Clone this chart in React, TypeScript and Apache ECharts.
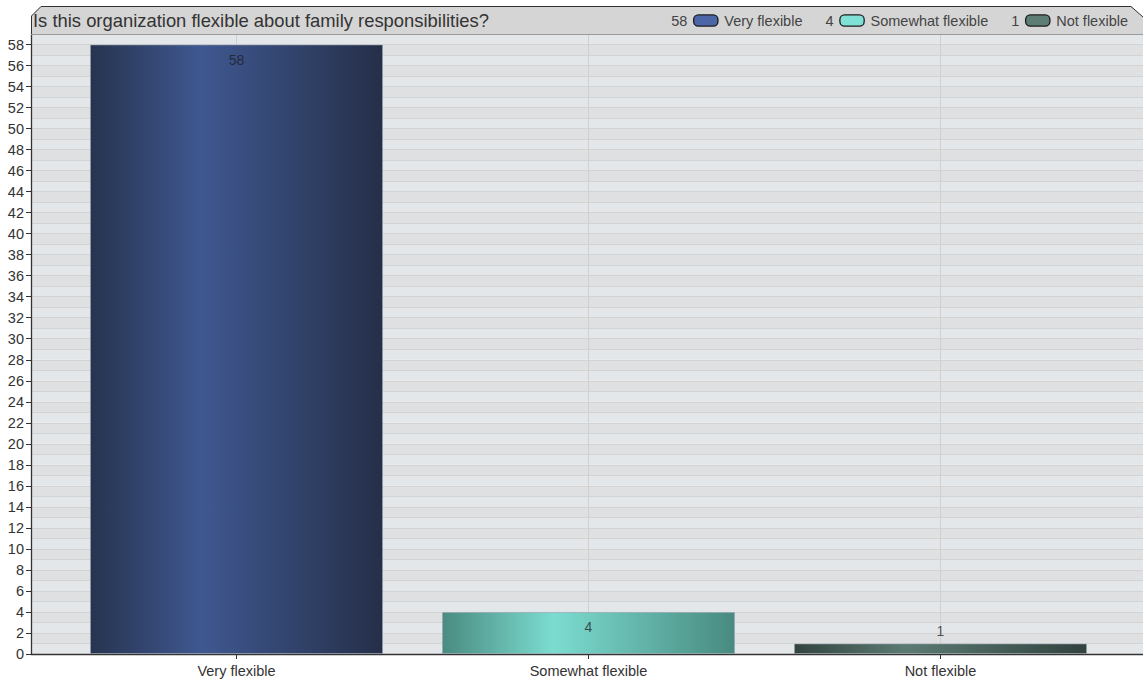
import React, { useEffect, useRef } from "react";
import * as echarts from "echarts";

const titleText = "Is this organization flexible about family responsibilities?";
const categories = ["Very flexible", "Somewhat flexible", "Not flexible"];
const counts = [58, 4, 1];
const yAxisMax = 59;
const yLabelMax = 58;
const yLabelStep = 2;
const barStops = [
  ["#27344f", "#3f5891", "#252f48"],
  ["#4a8b81", "#7cdcd0", "#488a80"],
  ["#33443f", "#5b7b72", "#32423e"],
];
const legendColors = ["#4d66a8", "#80e2d6", "#5e7d74"];

const FONT = "'Liberation Sans', Arial, sans-serif";
const W = 1143;
const H = 684;
const plotTop = 34;
const plotBottom = 30;

export default function App() {
  const ref = useRef<HTMLDivElement>(null);
  useEffect(() => {
    if (!ref.current) return;
    const chart = echarts.init(ref.current, null, { renderer: "svg" });
    const plotH = H - plotTop - plotBottom;
    const labelTop = H - plotBottom - (yLabelMax / yAxisMax) * plotH;

    const grad = (stops: string[]) =>
      new echarts.graphic.LinearGradient(1, 0, 0, 0, [
        { offset: 0, color: stops[2] },
        { offset: 0.62, color: stops[1] },
        { offset: 1, color: stops[0] },
      ]);

    const rich: any = {
      v: { fontSize: 14.5, color: "#444", fontFamily: FONT },
      g: { width: 7 },
      n: { fontSize: 14.5, color: "#444", fontFamily: FONT },
    };
    categories.forEach((_, i) => {
      rich["b" + i] = {
        width: 23,
        height: 10,
        borderRadius: 4,
        borderColor: "#1c1c1c",
        borderWidth: 1.3,
        backgroundColor: legendColors[i],
      };
    });

    const series = categories.map((name, i) => ({
      name,
      type: "bar",
      xAxisIndex: 1,
      yAxisIndex: 1,
      stack: "all",
      barWidth: 293,
      data: categories.map((_, j) => (j === i ? counts[i] : null)),
      itemStyle: {
        color: grad(barStops[i]),
        borderColor: "rgba(150,160,175,0.55)",
        borderWidth: 1,
      },
      label: {
        show: true,
        position: counts[i] < 2 ? "top" : "insideTop",
        distance: counts[i] < 2 ? 5 : 8,
        fontSize: 14,
        fontFamily: FONT,
        color: "rgba(25,25,25,0.72)",
      },
    }));

    chart.setOption({
      animation: false,
      textStyle: { fontFamily: FONT },
      graphic: [
        {
          type: "polygon",
          z: 0,
          silent: true,
          shape: {
            points: [
              [31, plotTop],
              [31, 16],
              [41, 6],
              [W - 12, 6],
              [W, 17],
              [W, plotTop],
            ],
          },
          style: { fill: "#d5d5d5", stroke: null },
        },
        {
          type: "polyline",
          z: 1,
          silent: true,
          shape: {
            points: [
              [31.5, plotTop],
              [31.5, 16],
              [41, 6.5],
              [W - 12, 6.5],
              [W, 17],
            ],
          },
          style: { stroke: "#333", lineWidth: 1, fill: null },
        },
        {
          type: "line",
          z: 1,
          silent: true,
          shape: { x1: 31, y1: plotTop + 0.5, x2: W, y2: plotTop + 0.5 },
          style: { stroke: "#9a9a9a", lineWidth: 1 },
        },
      ],
      title: {
        text: titleText,
        left: 33,
        top: 11,
        padding: 0,
        textStyle: { fontSize: 18.4, fontWeight: "normal", color: "#333", fontFamily: FONT },
      },
      legend: {
        data: categories,
        right: 15,
        top: 13,
        padding: 0,
        icon: "rect",
        itemWidth: 0,
        itemHeight: 0,
        itemGap: 17,
        selectedMode: false,
        formatter: (name: string) => {
          const i = categories.indexOf(name);
          return `{v|${counts[i]}}{g|}{b${i}|}{g|}{n|${name}}`;
        },
        textStyle: { rich },
      },
      grid: [
        { left: 31, right: 0, top: plotTop, bottom: plotBottom },
        { left: 60.5, right: 26.5, top: plotTop, bottom: plotBottom },
        { left: 31, right: 0, top: labelTop, bottom: plotBottom },
      ],
      xAxis: [
        {
          gridIndex: 0,
          type: "value",
          min: 0,
          max: 1,
          axisLine: { show: true, lineStyle: { color: "#333", width: 1.3 } },
          axisTick: { show: false },
          axisLabel: { show: false },
          splitLine: { show: false },
        },
        {
          gridIndex: 1,
          type: "category",
          data: categories,
          axisLine: { show: false },
          axisTick: { show: true, alignWithLabel: true, length: 5, lineStyle: { color: "#333" } },
          axisLabel: { fontSize: 14.5, color: "#333", margin: 9, fontFamily: FONT },
          splitLine: { show: true, alignWithLabel: true, lineStyle: { color: "#d0d0d0", width: 1 } },
        },
        {
          gridIndex: 2,
          type: "value",
          show: false,
          min: 0,
          max: 1,
        },
      ],
      yAxis: [
        {
          gridIndex: 0,
          type: "value",
          min: 0,
          max: yAxisMax,
          interval: 1,
          axisLine: { show: true, lineStyle: { color: "#333", width: 1.3 } },
          axisTick: { show: false },
          axisLabel: { show: false },
          splitLine: { show: true, lineStyle: { color: "#d3d3d3", width: 1 } },
          splitArea: { show: true, areaStyle: { color: ["#e4e7ea", "#dfe0e1"] } },
        },
        {
          gridIndex: 1,
          type: "value",
          min: 0,
          max: yAxisMax,
          show: false,
        },
        {
          gridIndex: 2,
          type: "value",
          min: 0,
          max: yLabelMax,
          interval: yLabelStep,
          axisLine: { show: false },
          axisTick: { show: true, length: 5, lineStyle: { color: "#333" } },
          axisLabel: { fontSize: 14.5, color: "#333", margin: 7, fontFamily: FONT },
          splitLine: { show: false },
        },
      ],
      series,
    });
    return () => chart.dispose();
  }, []);
  return (
    <div
      ref={ref}
      style={{ position: "fixed", left: 0, top: 0, width: W, height: H, background: "#fff" }}
    />
  );
}
